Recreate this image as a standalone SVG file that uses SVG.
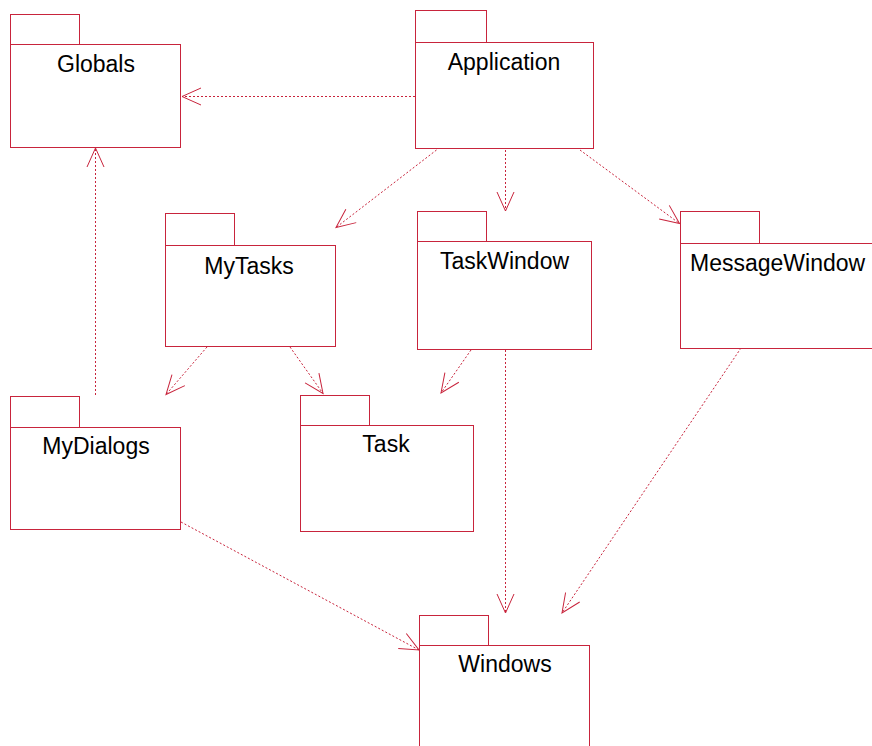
<svg xmlns="http://www.w3.org/2000/svg" width="872" height="746" viewBox="0 0 872 746">
<style>
.b{fill:#fff;stroke:#c8243c;stroke-width:1}
.t{font-family:"Liberation Sans",Arial,sans-serif;font-size:23px;fill:#000;text-anchor:middle}
.c{fill:none;stroke:#c8243c;stroke-width:1;stroke-dasharray:2,2}
.h{fill:none;stroke:#c8243c;stroke-width:1}
</style>
<defs>
<marker id="a" markerUnits="userSpaceOnUse" markerWidth="24" markerHeight="20" viewBox="-21 -10 24 20" refX="0" refY="0" orient="auto">
<path d="M-19,-8.5 L0,0 L-19,8.5" class="h"/>
</marker>
</defs>
<rect width="872" height="746" fill="#fff"/>
<g id="connectors">
<line class="c" x1="415" y1="96.5" x2="182" y2="96.5" marker-end="url(#a)"/>
<line class="c" x1="95.5" y1="395" x2="95.5" y2="148" marker-end="url(#a)"/>
<line class="c" x1="436.5" y1="150" x2="336" y2="227.5" marker-end="url(#a)"/>
<line class="c" x1="505.5" y1="150" x2="505.5" y2="211" marker-end="url(#a)"/>
<line class="c" x1="580" y1="150" x2="679.5" y2="223.5" marker-end="url(#a)"/>
<line class="c" x1="207" y1="347" x2="166" y2="394.5" marker-end="url(#a)"/>
<line class="c" x1="290" y1="347" x2="323" y2="393.5" marker-end="url(#a)"/>
<line class="c" x1="471" y1="350" x2="441" y2="393" marker-end="url(#a)"/>
<line class="c" x1="505.5" y1="350" x2="505.5" y2="613" marker-end="url(#a)"/>
<line class="c" x1="741" y1="348" x2="562" y2="613" marker-end="url(#a)"/>
<line class="c" x1="181" y1="522" x2="419" y2="650" marker-end="url(#a)"/>
</g>
<g id="Globals">
<rect class="b" x="10.5" y="14.5" width="69" height="30"/>
<rect class="b" x="10.5" y="44.5" width="170" height="103"/>
<text class="t" x="96" y="72">Globals</text>
</g>
<g id="Application">
<rect class="b" x="415.5" y="10.5" width="71" height="32"/>
<rect class="b" x="415.5" y="42.5" width="178" height="106"/>
<text class="t" x="504" y="70">Application</text>
</g>
<g id="MyTasks">
<rect class="b" x="165.5" y="213.5" width="69" height="32"/>
<rect class="b" x="165.5" y="245.5" width="170" height="101"/>
<text class="t" x="249" y="274">MyTasks</text>
</g>
<g id="TaskWindow">
<rect class="b" x="417.5" y="211.5" width="69" height="30"/>
<rect class="b" x="417.5" y="241.5" width="174" height="108"/>
<text class="t" x="504.5" y="269">TaskWindow</text>
</g>
<g id="MessageWindow">
<rect class="b" x="680.5" y="211.5" width="79" height="32"/>
<rect class="b" x="680.5" y="243.5" width="200" height="105"/>
<text class="t" x="690" y="271" style="text-anchor:start">MessageWindow</text>
</g>
<g id="MyDialogs">
<rect class="b" x="10.5" y="396.5" width="69" height="31"/>
<rect class="b" x="10.5" y="427.5" width="170" height="102"/>
<text class="t" x="96" y="454">MyDialogs</text>
</g>
<g id="Task">
<rect class="b" x="300.5" y="395.5" width="69" height="30"/>
<rect class="b" x="300.5" y="425.5" width="173" height="106"/>
<text class="t" x="386" y="452">Task</text>
</g>
<g id="Windows">
<rect class="b" x="419.5" y="615.5" width="69" height="30"/>
<rect class="b" x="419.5" y="645.5" width="170" height="110"/>
<text class="t" x="505" y="672">Windows</text>
</g>
</svg>
